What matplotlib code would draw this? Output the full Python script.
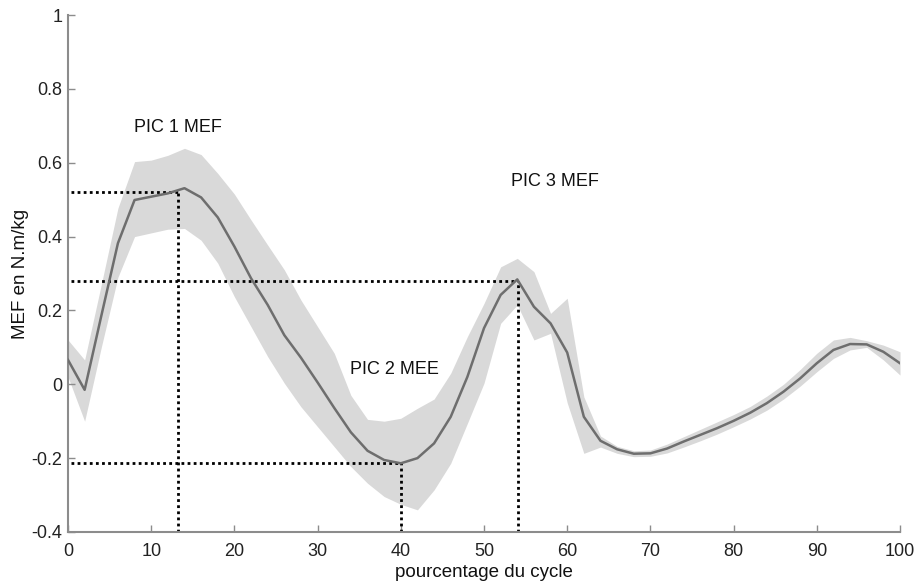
import matplotlib
matplotlib.use("Agg")
import matplotlib.pyplot as plt
import numpy as np

plt.rcParams['font.family'] = ['Liberation Sans', 'DejaVu Sans']

cycle_pct = list(range(0, 101, 2))
mean_mef = [0.066, -0.015, 0.185, 0.382, 0.499, 0.508, 0.517, 0.531, 0.506, 0.452,
            0.373, 0.287, 0.215, 0.133, 0.072, 0.005, -0.064, -0.13, -0.18, -0.205,
            -0.214, -0.20, -0.16, -0.088, 0.02, 0.152, 0.242, 0.284, 0.21, 0.165,
            0.086, -0.088, -0.153, -0.176, -0.188, -0.187, -0.174, -0.155, -0.137, -0.119,
            -0.099, -0.077, -0.051, -0.02, 0.016, 0.057, 0.093, 0.109, 0.108, 0.088, 0.057]
upper_mef = [0.12, 0.066, 0.27, 0.477, 0.603, 0.607, 0.62, 0.639, 0.622, 0.571,
             0.515, 0.445, 0.377, 0.31, 0.228, 0.156, 0.084, -0.03, -0.095, -0.10,
             -0.092, -0.065, -0.04, 0.03, 0.129, 0.219, 0.318, 0.341, 0.305, 0.192,
             0.233, -0.034, -0.14, -0.168, -0.18, -0.178, -0.162, -0.142, -0.122, -0.102,
             -0.082, -0.06, -0.032, 0.0, 0.04, 0.084, 0.12, 0.127, 0.118, 0.106, 0.088]
lower_mef = [0.02, -0.10, 0.10, 0.29, 0.40, 0.41, 0.42, 0.422, 0.39, 0.328,
             0.237, 0.156, 0.075, 0.003, -0.061, -0.115, -0.169, -0.223, -0.268, -0.304,
             -0.325, -0.34, -0.286, -0.214, -0.106, 0.003, 0.165, 0.215, 0.12, 0.138,
             -0.05, -0.187, -0.17, -0.187, -0.196, -0.195, -0.186, -0.17, -0.153, -0.135,
             -0.115, -0.094, -0.07, -0.04, -0.005, 0.034, 0.07, 0.093, 0.100, 0.066, 0.025]

# peaks: (x, y)
peak_x = [13.2, 40.0, 54.1]
peak_y = [0.52, -0.212, 0.28]
peak_labels = ["PIC 1 MEF", "PIC 2 MEE", "PIC 3 MEF"]
label_pos = [(13.2, 0.695), (39.2, 0.04), (58.5, 0.55)]

xticks = list(range(0, 101, 10))
yticks = [-0.4, -0.2, 0, 0.2, 0.4, 0.6, 0.8, 1]
ytick_labels = ["-0.4", "-0.2", "0", "0.2", "0.4", "0.6", "0.8", "1"]

fig = plt.figure(figsize=(9.18, 5.83), dpi=100)
ax = fig.add_axes([68/918, (583-532)/583, (900-68)/918, (532-15)/583])

ax.fill_between(cycle_pct, lower_mef, upper_mef, color='#d9d9d9', linewidth=0, zorder=1)
ax.plot(cycle_pct, mean_mef, color='#6e6e6e', linewidth=1.8, zorder=3)

for px, py in zip(peak_x, peak_y):
    ax.plot([0.4, px], [py, py], color='black', linestyle=(0, (1, 1.2)), linewidth=2, zorder=2)
    ax.plot([px, px], [-0.4, py], color='black', linestyle=(0, (1, 1.2)), linewidth=2, zorder=2)

for lab, (lx, ly) in zip(peak_labels, label_pos):
    ax.text(lx, ly, lab, ha='center', va='center', fontsize=13, color='#111111')

ax.set_xlim(0, 100)
ax.set_ylim(-0.4, 1)
ax.set_xticks(xticks)
ax.set_yticks(yticks)
ax.set_yticklabels(ytick_labels)
for s in ['top', 'right']:
    ax.spines[s].set_visible(False)
for s in ['left', 'bottom']:
    ax.spines[s].set_color('#8c8c8c')
    ax.spines[s].set_linewidth(1.5)
ax.tick_params(direction='in', length=5, width=1, color='#8c8c8c', labelsize=13,
               labelcolor='#222222')
ax.tick_params(axis='y', pad=4)
ax.tick_params(axis='x', pad=8)
ax.set_xlabel("pourcentage du cycle", fontsize=13.5, color='#111111', labelpad=3)
ax.set_ylabel("MEF en N.m/kg", fontsize=13.5, color='#111111', labelpad=2)

fig.savefig("out.png", dpi=100)
